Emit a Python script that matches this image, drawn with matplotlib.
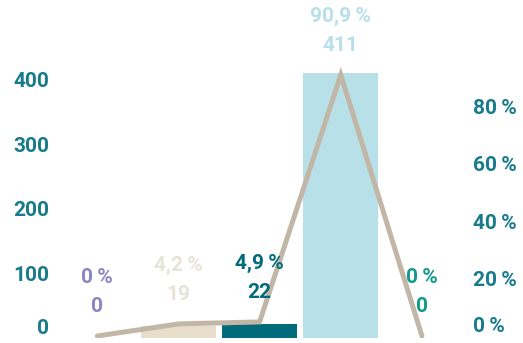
import numpy as np
from matplotlib import pyplot as plt

plt.rcParams['font.family'] = ['Roboto', 'DejaVu Sans']

# counts per group and their share of the total
counts = [0, 19, 22, 411, 0]
shares = [0.0, 4.2, 4.9, 90.9, 0.0]
share_labels = ["0\u2009%", "4,2\u2009%", "4,9\u2009%", "90,9\u2009%", "0\u2009%"]
count_labels = ["0", "19", "22", "411", "0"]

bar_colors = ["#8a86c4", "#e8dfca", "#006b7b", "#b8e0e8", "#11998b"]
label_colors = ["#8a86c4", "#e6e3d8", "#006b7b", "#b8e0ea", "#11998b"]
line_color = "#c2b7a7"
tick_color = "#177b8c"

left_ticks = [0, 100, 200, 300, 400]
right_ticks = [0, 20, 40, 60, 80]

fig = plt.figure(figsize=(5.23, 3.43), dpi=100)
ax = fig.add_axes([55/523, 5/343, 410/523, 338/343])
x = np.arange(len(counts))

ax.bar(x, counts, width=0.92, color=bar_colors, zorder=1)
ax.set_xlim(-0.52, 4.53)
ax.set_ylim(0, 524)
ax.set_xticks([])
ax.set_yticks(left_ticks)
ax.set_yticklabels([str(t) for t in left_ticks])

ax2 = ax.twinx()
ax2.plot(x, shares, color=line_color, lw=3.6, solid_capstyle='round',
         solid_joinstyle='miter', zorder=3)
ax2.set_ylim(-0.7, 117)
ax2.set_yticks(right_ticks)
ax2.set_yticklabels([f"{t}\u2009%" for t in right_ticks])

for a in (ax, ax2):
    for s in a.spines.values():
        s.set_visible(False)
    a.tick_params(axis='y', length=0, labelsize=15, labelcolor=tick_color)
    for lbl in a.get_yticklabels():
        lbl.set_fontweight('bold')
ax.tick_params(axis='y', pad=4)
ax2.tick_params(axis='y', pad=6)

# keep the zero labels inside the figure
ax.get_yticklabels()[0].set_verticalalignment('bottom')
ax2.get_yticklabels()[0].set_verticalalignment('bottom')

for xi, s, sl, cl, c in zip(x, shares, share_labels, count_labels, label_colors):
    ax2.annotate(cl, (xi, s), xytext=(0, 21.5), textcoords='offset points',
                 ha='center', va='center', fontsize=15, color=c, fontweight='bold')
    ax2.annotate(sl, (xi, s), xytext=(0, 42), textcoords='offset points',
                 ha='center', va='center', fontsize=15, color=c, fontweight='bold')

fig.savefig('out.png', dpi=100)
